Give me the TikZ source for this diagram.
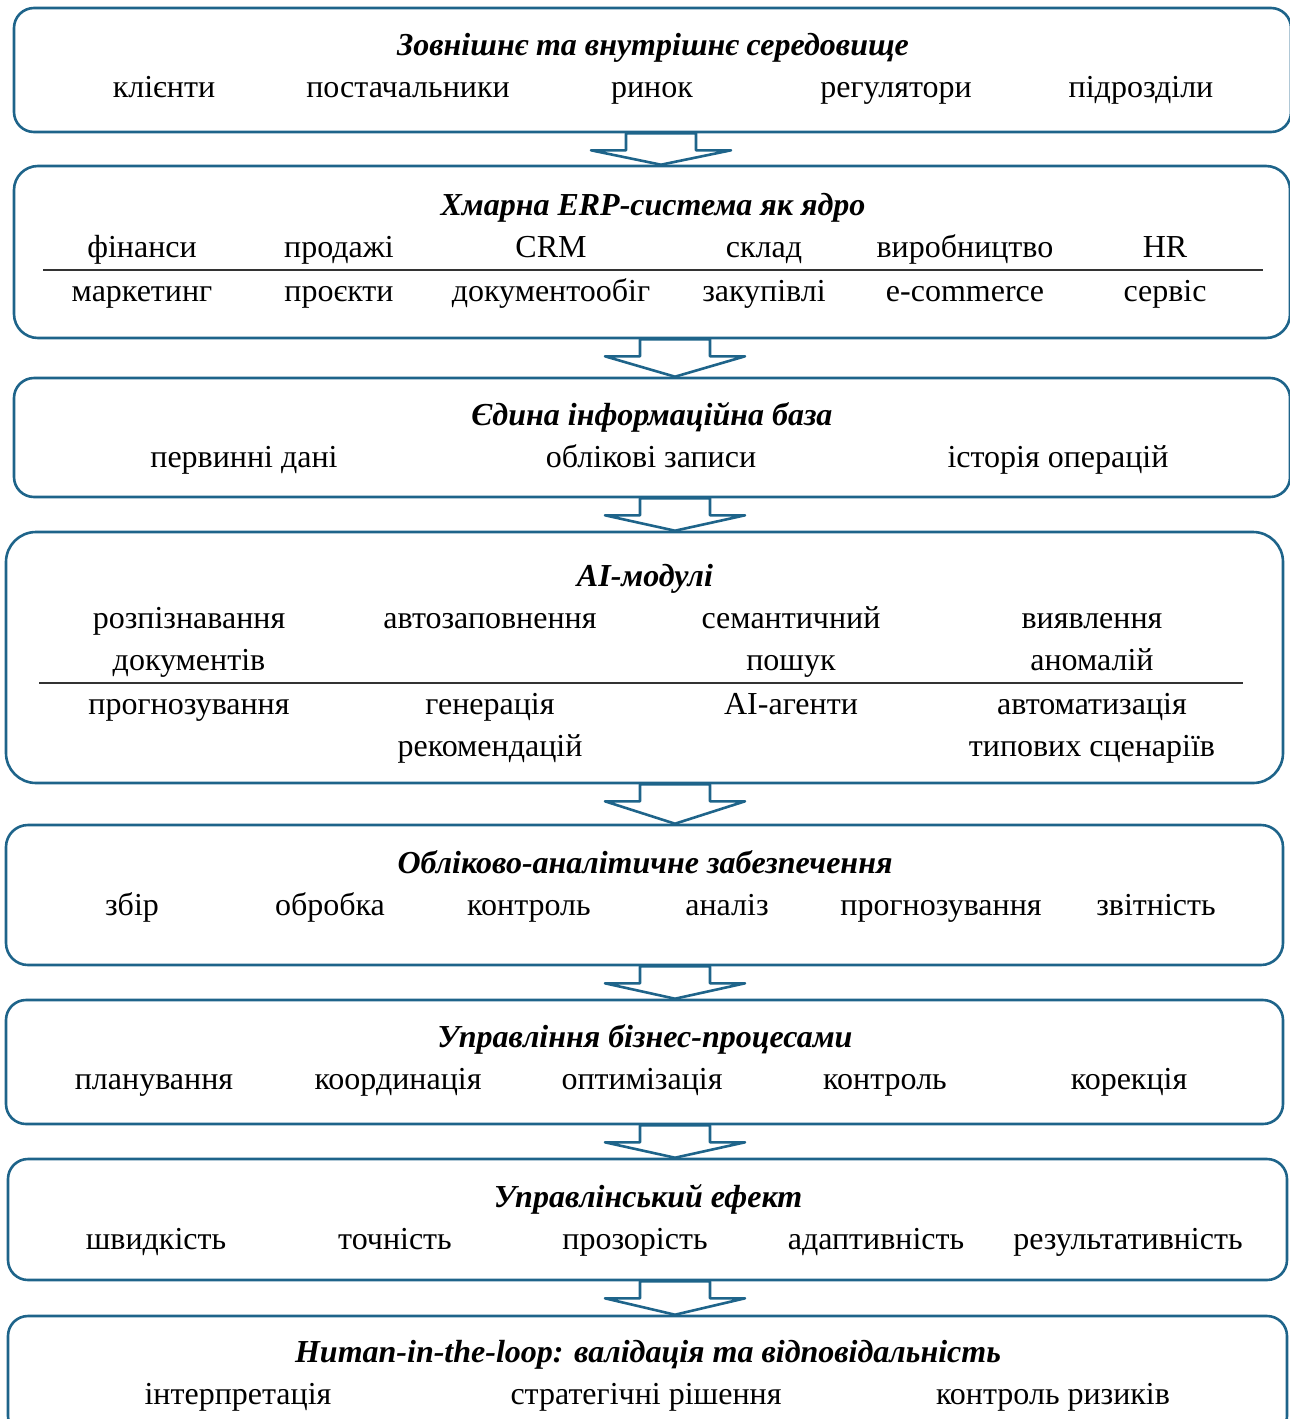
\documentclass[tikz,border=0pt]{standalone}
\usepackage{fontspec}
\setmainfont{Liberation Serif}
\usepackage{tikz}
\usetikzlibrary{calc}
\definecolor{frame}{RGB}{30,100,138}
\tikzset{
    layer/.style={
        draw=frame,
        line width=1.3pt,
        rounded corners=10pt,
        inner sep=0pt
    },
    heading/.style={
        font=\fontsize{16}{21}\selectfont\bfseries\itshape,
        inner sep=0pt,
        anchor=base
    },
    item/.style={
        font=\fontsize{16}{21}\selectfont,
        inner sep=0pt,
        align=center,
        anchor=base
    },
    divider/.style={line width=0.7pt, black!80},
    flow/.style={draw=frame, line width=1.3pt, line join=round, fill=white}
}
% block arrow from the bottom of #1 to the top of #2 at x = #3
\newcommand{\layerflow}[3]{%
    \draw[flow] ($(#3,0 |- #1.south)+(-35,0)$) -- ++(0,17) -- ++(-35,0)
        -- (#3,0 |- #2.north) -- ($(#3,0 |- #1.south)+(70,17)$)
        -- ++(-35,0) -- ++(0,-17) -- cycle;}

\begin{document}
\begin{tikzpicture}[x=0.5pt, y=-0.5pt]

    \useasboundingbox (0,0) rectangle (1290,1419);
    \clip (0,0) rectangle (1290,1419);

    % layers
    \node[layer, minimum width=638.5pt, minimum height=62pt] (env) at (652.5,70) {};
    \node[layer, minimum width=638pt, minimum height=86pt, rounded corners=12pt] (erp) at (652,252) {};
    \node[layer, minimum width=638pt, minimum height=59.5pt] (base) at (652,437.5) {};
    \node[layer, minimum width=638.5pt, minimum height=125.5pt, rounded corners=15pt] (ai) at (644.5,657.5) {};
    \node[layer, minimum width=638.5pt, minimum height=70pt, rounded corners=11pt] (acc) at (644.5,895) {};
    \node[layer, minimum width=638.5pt, minimum height=62pt] (bpm) at (644.5,1062) {};
    \node[layer, minimum width=639.5pt, minimum height=60.5pt] (effect) at (647.5,1219.5) {};
    \node[layer, minimum width=639.5pt, minimum height=60pt] (human) at (647.5,1376) {};

    % environment
    \node[heading] (env-t) at (653,55) {Зовнішнє та внутрішнє середовище};
    \node[item] (env-1) at (164,97) {клієнти};
    \node[item] (env-2) at (408,97) {постачальники};
    \node[item] (env-3) at (652,97) {ринок};
    \node[item] (env-4) at (896,97) {регулятори};
    \node[item] (env-5) at (1141,97) {підрозділи};

    % cloud ERP
    \node[heading] (erp-t) at (653,215) {Хмарна ERP-система як ядро};
    \node[item] (erp-1) at (142,257) {фінанси};
    \node[item] (erp-2) at (339,257) {продажі};
    \node[item] (erp-3) at (551,257) {CRM};
    \node[item] (erp-4) at (764,257) {склад};
    \node[item] (erp-5) at (965,257) {виробництво};
    \node[item] (erp-6) at (1165,257) {HR};
    \draw[divider] (43,270) -- (1263,270);
    \node[item] (erp-7) at (142,301) {маркетинг};
    \node[item] (erp-8) at (339,301) {проєкти};
    \node[item] (erp-9) at (551,301) {документообіг};
    \node[item] (erp-10) at (764,301) {закупівлі};
    \node[item] (erp-11) at (965,301) {e-commerce};
    \node[item] (erp-12) at (1165,301) {сервіс};

    % information base
    \node[heading] (base-t) at (652,425) {Єдина інформаційна база};
    \node[item] (base-1) at (244,467) {первинні дані};
    \node[item] (base-2) at (651,467) {облікові записи};
    \node[item] (base-3) at (1058,467) {історія операцій};

    % AI modules (two-line items sit on their last line)
    \node[heading] (ai-t) at (645,586) {AI-модулі};
    \node[item] (ai-1) at (189,670) {розпізнавання\\документів};
    \node[item] (ai-2) at (490,628) {автозаповнення};
    \node[item] (ai-3) at (791,670) {семантичний\\пошук};
    \node[item] (ai-4) at (1092,670) {виявлення\\аномалій};
    \draw[divider] (39,683) -- (1243,683);
    \node[item] (ai-5) at (189,714) {прогнозування};
    \node[item] (ai-6) at (490,756) {генерація\\рекомендацій};
    \node[item] (ai-7) at (791,714) {AI-агенти};
    \node[item] (ai-8) at (1092,756) {автоматизація\\типових сценаріїв};

    % accounting support
    \node[heading] (acc-t) at (645,873) {Обліково-аналітичне забезпечення};
    \node[item] (acc-1) at (132,915) {збір};
    \node[item] (acc-2) at (330,915) {обробка};
    \node[item] (acc-3) at (529,915) {контроль};
    \node[item] (acc-4) at (727,915) {аналіз};
    \node[item] (acc-5) at (941,915) {прогнозування};
    \node[item] (acc-6) at (1156,915) {звітність};

    % business processes
    \node[heading] (bpm-t) at (645,1047) {Управління бізнес-процесами};
    \node[item] (bpm-1) at (154,1089) {планування};
    \node[item] (bpm-2) at (398,1089) {координація};
    \node[item] (bpm-3) at (642,1089) {оптимізація};
    \node[item] (bpm-4) at (885,1089) {контроль};
    \node[item] (bpm-5) at (1129,1089) {корекція};

    % management effect
    \node[heading] (effect-t) at (648,1207) {Управлінський ефект};
    \node[item] (effect-1) at (156,1249) {швидкість};
    \node[item] (effect-2) at (395,1249) {точність};
    \node[item] (effect-3) at (635,1249) {прозорість};
    \node[item] (effect-4) at (876,1249) {адаптивність};
    \node[item] (effect-5) at (1128,1249) {результативність};

    % human in the loop
    \node[heading] (human-t) at (648,1362) {Human-in-the-loop: валідація та відповідальність};
    \node[item] (human-1) at (238,1404) {інтерпретація};
    \node[item] (human-2) at (646,1404) {стратегічні рішення};
    \node[item] (human-3) at (1053,1404) {контроль ризиків};

    % block arrows
    \layerflow{env}{erp}{661}
    \layerflow{erp}{base}{675}
    \layerflow{base}{ai}{675}
    \layerflow{ai}{acc}{675}
    \layerflow{acc}{bpm}{675}
    \layerflow{bpm}{effect}{675}
    \layerflow{effect}{human}{675}

\end{tikzpicture}
\end{document}
